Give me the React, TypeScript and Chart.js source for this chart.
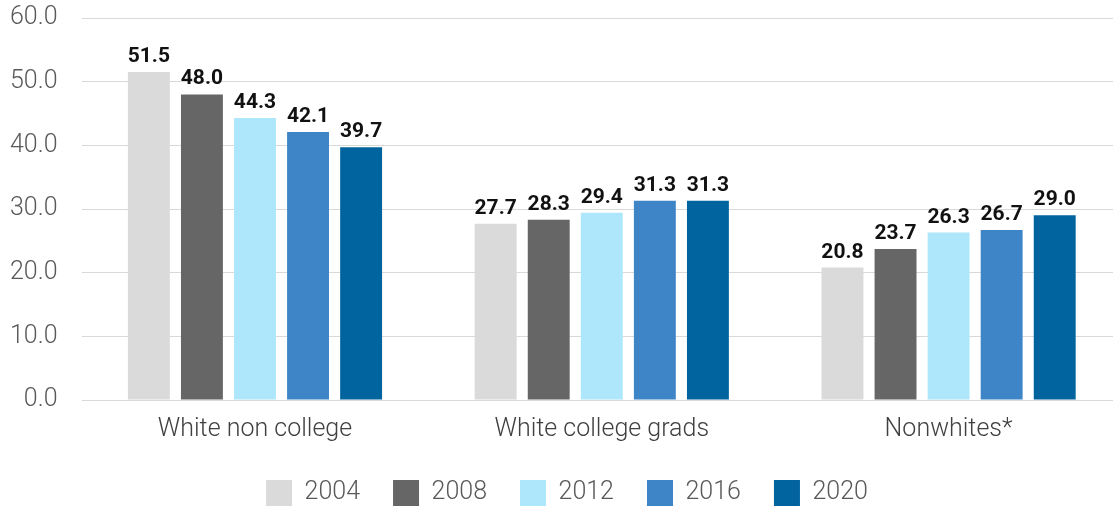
import React, { useEffect, useRef } from "react";
import { Chart, registerables } from "chart.js";

Chart.register(...registerables);

const categories = ["White non college", "White college grads", "Nonwhites*"];
const years = ["2004", "2008", "2012", "2016", "2020"];
const values2004 = [51.5, 27.7, 20.8];
const values2008 = [48.0, 28.3, 23.7];
const values2012 = [44.3, 29.4, 26.3];
const values2016 = [42.1, 31.3, 26.7];
const values2020 = [39.7, 31.3, 29.0];
const seriesValues = [values2004, values2008, values2012, values2016, values2020];
const colors = ["#DADADA", "#666666", "#AEE7FB", "#3D85C6", "#02649F"];
const yMin = 0;
const yMax = 60;
const yStep = 10;

const valueLabels = {
  id: "valueLabels",
  afterDatasetsDraw(chart: any) {
    const ctx = chart.ctx;
    ctx.save();
    ctx.font = "bold 21px Roboto";
    ctx.fillStyle = "#111111";
    ctx.textAlign = "center";
    ctx.textBaseline = "alphabetic";
    chart.data.datasets.forEach((ds: any, i: number) => {
      const meta = chart.getDatasetMeta(i);
      meta.data.forEach((el: any, j: number) => {
        const v = ds.data[j];
        ctx.fillText(Number(v).toFixed(1), el.x, el.y - 10);
      });
    });
    ctx.restore();
  },
};

const legendShift = {
  id: "legendShift",
  afterLayout(chart: any) {
    if (chart.legend) {
      chart.legend.left += 6;
      chart.legend.right += 6;
    }
  },
};

export default function App() {
  const ref = useRef<HTMLCanvasElement | null>(null);
  useEffect(() => {
    if (!ref.current) return;
    const chart = new Chart(ref.current, {
      type: "bar",
      data: {
        labels: categories,
        datasets: years.map((y, i) => ({
          label: y,
          data: seriesValues[i],
          backgroundColor: colors[i],
          borderWidth: 0,
          categoryPercentage: 0.765,
          barPercentage: 0.79,
        })),
      },
      options: {
        responsive: false,
        animation: false,
        devicePixelRatio: 1,
        layout: { padding: { left: 0, right: 0, top: 5, bottom: 0 } },
        plugins: {
          legend: {
            position: "bottom",
            labels: {
              boxWidth: 26,
              boxHeight: 26,
              padding: 33,
              color: "#595959",
              font: { family: "Roboto", size: 25, weight: "300" as any },
            },
          },
          tooltip: { enabled: false },
        },
        scales: {
          x: {
            grid: { display: true, drawOnChartArea: false, drawTicks: true, tickLength: 13, tickColor: "rgba(0,0,0,0)" },
            border: { display: false },
            ticks: {
              padding: 2,
              color: "#404040",
              font: { family: "Roboto", size: 25, weight: "300" as any },
            },
          },
          y: {
            min: yMin,
            max: yMax,
            grid: { color: "#D9D9D9", lineWidth: 1, drawTicks: true, tickLength: 14, tickColor: "rgba(0,0,0,0)" },
            border: { display: false },
            ticks: {
              stepSize: yStep,
              padding: 10,
              color: "#595959",
              font: { family: "Roboto", size: 25, weight: "300" as any },
              callback: (v: any) => Number(v).toFixed(1),
            },
          },
        },
      },
      plugins: [valueLabels, legendShift],
    });
    return () => chart.destroy();
  }, []);
  return (
    <div style={{ position: "fixed", left: 0, top: 0, width: 1113, height: 506, overflow: "hidden", background: "#fff" }}>
      <canvas ref={ref} width={1122} height={523} style={{ display: "block", position: "absolute", left: 0, top: -7 }} />
    </div>
  );
}
